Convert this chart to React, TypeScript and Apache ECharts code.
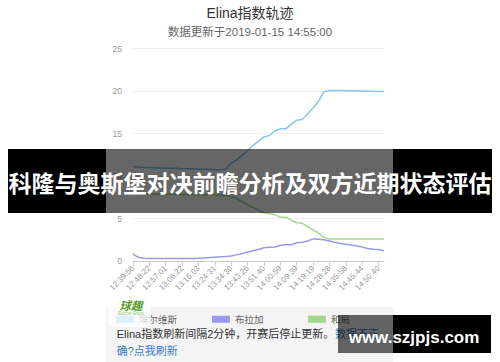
import React, { useEffect, useRef } from "react";
import * as echarts from "echarts";

// Refresh times of the Elina index (category axis)
const times = [
  "12:39:56", "12:42:41", "12:45:30", "12:48:22", "12:51:15", "12:54:08",
  "12:57:01", "13:00:09", "13:03:16", "13:06:22", "13:09:35", "13:12:49",
  "13:16:03", "13:18:52", "13:21:41", "13:24:31", "13:27:51", "13:31:10",
  "13:34:30", "13:37:29", "13:40:27", "13:43:26", "13:46:11", "13:48:55",
  "13:51:40", "13:54:46", "13:57:53", "14:00:59", "14:03:52", "14:06:45",
  "14:09:39", "14:12:52", "14:16:06", "14:19:19", "14:22:22", "14:25:25",
  "14:28:28", "14:30:58", "14:33:28", "14:35:58", "14:39:14", "14:42:29",
  "14:45:44", "14:47:23", "14:49:01", "14:50:40", "14:52:47",
];

const seriesNames = ["埃尔维斯", "布拉加", "和局"];
const seriesColors = ["#87c6e8", "#9a9ae8", "#a5d78f"];

const homeValues = [
  11.1, 11.05, 11.0, 11.0, 10.95, 10.95, 10.9, 10.9, 10.9, 10.85, 10.85, 10.85,
  10.8, 10.8, 10.8, 10.75, 10.75, 10.8, 11.5, 11.9, 12.45, 13.0, 13.6, 14.1,
  14.6, 14.76, 15.3, 15.55, 15.55, 16.1, 16.55, 16.65, 17.3, 18.0, 18.8, 19.9,
  20.05, 20.05, 20.05, 20.04, 20.03, 20.02, 20.0, 19.98, 19.96, 19.95, 19.95,
];

const awayValues = [
  0.85, 0.4, 0.32, 0.3, 0.3, 0.3, 0.3, 0.3, 0.3, 0.3, 0.3, 0.3,
  0.32, 0.36, 0.4, 0.45, 0.5, 0.52, 0.6, 0.72, 0.88, 1.05, 1.2, 1.35,
  1.55, 1.62, 1.65, 1.85, 1.9, 1.92, 2.15, 2.2, 2.35, 2.6, 2.55, 2.5,
  2.35, 2.2, 2.07, 1.98, 1.87, 1.77, 1.65, 1.47, 1.37, 1.36, 1.2,
];

const drawValues = [
  7.9, 7.9, 7.88, 7.88, 7.86, 7.86, 7.85, 7.85, 7.84, 7.83, 7.82, 7.82,
  7.8, 7.8, 7.78, 7.76, 7.75, 7.72, 7.6, 7.35, 7.0, 6.6, 6.3, 6.0,
  5.65, 5.58, 5.45, 5.15, 5.15, 4.8, 4.5, 4.45, 4.05, 3.65, 3.3, 2.75,
  2.58, 2.58, 2.58, 2.58, 2.58, 2.58, 2.58, 2.58, 2.58, 2.58, 2.58,
];

const FONT = '"Liberation Sans", "Noto Sans CJK SC", sans-serif';
const CJK = '"Noto Sans CJK SC", sans-serif';

export default function App() {
  const ref = useRef<HTMLDivElement>(null);

  useEffect(() => {
    if (!ref.current) return;
    const chart = echarts.init(ref.current, undefined, { renderer: "svg" });
    const values = [homeValues, awayValues, drawValues];
    const legendLefts = [116, 212, 308];

    chart.setOption({
      animation: false,
      backgroundColor: "#ffffff",
      textStyle: { fontFamily: FONT },
      title: {
        text: "Elina指数轨迹",
        subtext: "数据更新于2019-01-15 14:55:00",
        left: "center",
        top: 6,
        padding: 0,
        itemGap: 6,
        textStyle: { fontSize: 14, fontWeight: "normal", color: "#333", fontFamily: FONT },
        subtextStyle: { fontSize: 11.5, color: "#666", fontFamily: FONT },
      },
      legend: seriesNames.map((name, i) => ({
        data: [name],
        left: legendLefts[i],
        top: 314.5,
        padding: 0,
        icon: "rect",
        itemWidth: 18,
        itemHeight: 7,
        itemGap: 6,
        selectedMode: false,
        textStyle: { fontSize: 9.5, color: "#666", fontFamily: CJK },
      })),
      grid: { left: 133, right: 116, top: 48.5, bottom: 101, containLabel: false },
      xAxis: {
        type: "category",
        data: times,
        boundaryGap: false,
        axisLine: { lineStyle: { color: "#ccc" } },
        axisTick: { interval: 2, lineStyle: { color: "#ccc" } },
        axisLabel: { interval: 2, rotate: 45, fontSize: 8, color: "#999", margin: 6 },
        splitLine: { show: false },
      },
      yAxis: {
        type: "value",
        min: 0,
        max: 25,
        interval: 5,
        axisLine: { show: false },
        axisTick: { show: false },
        axisLabel: { fontSize: 8.5, color: "#999", margin: 11 },
        splitLine: { lineStyle: { color: "#eee" } },
      },
      series: seriesNames.map((name, i) => ({
        name,
        type: "line",
        data: values[i],
        showSymbol: false,
        symbol: "none",
        itemStyle: { color: seriesColors[i] },
        lineStyle: { color: seriesColors[i], width: 1.5 },
      })),
      graphic: [
        // footer panel
        { type: "rect", z: 0, silent: true, shape: { x: 106, y: 307, width: 287, height: 55 }, style: { fill: "#f4f4f4" } },
        // logo badge
        { type: "rect", z: 50, silent: true, shape: { x: 108, y: 292, width: 43, height: 35, r: 6 }, style: { fill: "rgba(255,255,255,0.72)" } },
        { type: "text", z: 51, x: 131, y: 305, style: { text: "球趣", fill: "#5a9e2c", fontSize: 11.5, fontWeight: "bold", fontStyle: "italic", fontFamily: CJK, align: "center", verticalAlign: "middle" } },
        { type: "text", z: 51, x: 131, y: 313, style: { text: "Soccer Enjoy", fill: "#8cc46a", fontSize: 4.5, fontStyle: "italic", fontFamily: FONT, align: "center", verticalAlign: "middle" } },
        // footer notes
        { type: "text", z: 40, x: 116.7, y: 334, style: { text: "Elina指数刷新间隔2分钟，开赛后停止更新。", fill: "#333", fontSize: 11, fontFamily: FONT, align: "left", verticalAlign: "middle" } },
        { type: "text", z: 40, x: 335, y: 334, style: { text: "数据不正", fill: "#3a7dbd", fontSize: 11, fontFamily: FONT, align: "left", verticalAlign: "middle" } },
        { type: "text", z: 40, x: 116.7, y: 351, style: { text: "确?点我刷新", fill: "#3a7dbd", fontSize: 11, fontFamily: FONT, align: "left", verticalAlign: "middle" } },
        // headline banner
        { type: "rect", z: 100, silent: true, shape: { x: 8, y: 149, width: 98, height: 64 }, style: { fill: "#000" } },
        { type: "rect", z: 100, silent: true, shape: { x: 106, y: 149, width: 287, height: 64 }, style: { fill: "rgba(0,0,0,0.6)" } },
        { type: "rect", z: 100, silent: true, shape: { x: 393, y: 149, width: 99, height: 64 }, style: { fill: "#000" } },
        { type: "text", z: 101, x: 250, y: 182, style: { text: "科隆与奥斯堡对决前瞻分析及双方近期状态评估", fill: "#fff", fontSize: 23, fontWeight: "bold", fontFamily: CJK, align: "center", verticalAlign: "middle" } },
        // site mark
        { type: "rect", z: 100, silent: true, shape: { x: 338, y: 315, width: 55, height: 38 }, style: { fill: "rgba(0,0,0,0.6)" } },
        { type: "rect", z: 100, silent: true, shape: { x: 393, y: 315, width: 98, height: 38 }, style: { fill: "#000" } },
        { type: "text", z: 101, x: 414, y: 337, style: { text: "www.szjpjs.com", fill: "#fff", fontSize: 17, fontWeight: "bold", fontFamily: FONT, align: "center", verticalAlign: "middle" } },
      ],
    });

    return () => chart.dispose();
  }, []);

  return (
    <div
      ref={ref}
      style={{ position: "fixed", left: 0, top: 0, width: 500, height: 362, background: "#fff" }}
    />
  );
}
